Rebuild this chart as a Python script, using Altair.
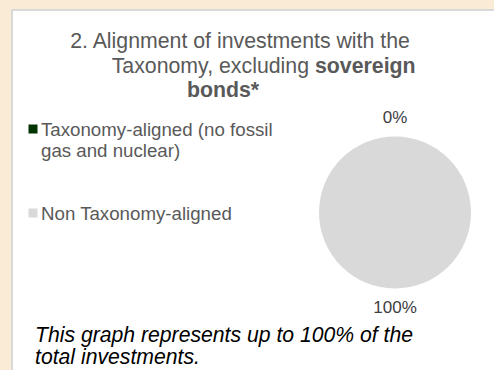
import altair as alt
import pandas as pd

# ---- data ----
categories = ["Taxonomy-aligned (no fossil gas and nuclear)", "Non Taxonomy-aligned"]
legend_lines = [["Taxonomy-aligned (no fossil", "gas and nuclear)"], ["Non Taxonomy-aligned"]]
values = [0, 100]
pct_labels = ["0%", "100%"]
colors = ["#003300", "#D9D9D9"]

title_line1 = "2. Alignment of investments with the"
title_line2a = "Taxonomy, excluding"
title_line2b = "sovereign"
title_line3 = "bonds*"
note_lines = ["This graph represents up to 100% of the", "total investments."]

FONT = "Liberation Sans"
W, H = 494, 370
CX, CY, R = 395, 212.5, 76

df = pd.DataFrame({"category": categories, "value": values, "label": pct_labels, "order": [0, 1]})
one = pd.DataFrame({"a": [0]})

color_scale = alt.Scale(domain=categories, range=colors)

# white panel
panel = alt.Chart(one).mark_rect(fill="white", stroke="#D9D9D9", strokeWidth=2).encode(
    x=alt.value(12), x2=alt.value(W + 10), y=alt.value(10), y2=alt.value(H + 10)
)

pie = alt.Chart(df).mark_arc(outerRadius=R).encode(
    theta=alt.Theta("value:Q", stack=True),
    color=alt.Color("category:N", scale=color_scale, legend=None),
    order=alt.Order("order:Q"),
    x=alt.value(CX), y=alt.value(CY),
)

pie_labels = alt.Chart(df).mark_text(radius=95, fontSize=17, font=FONT, color="#404040").encode(
    theta=alt.Theta("value:Q", stack=True),
    order=alt.Order("order:Q"),
    text="label:N",
    x=alt.value(CX), y=alt.value(CY),
)

def txt(s, x, y, size, align="left", weight="normal", style="normal", color="#595959", lh=21):
    return alt.Chart(one).mark_text(
        align=align, baseline="alphabetic", fontSize=size, font=FONT,
        fontWeight=weight, fontStyle=style, color=color, lineHeight=lh, lineBreak="\n"
    ).encode(x=alt.value(x), y=alt.value(y), text=alt.value(s))

TS = 21.3
title = [
    txt(title_line1, 240, 47.5, TS, align="center"),
    txt(title_line2a, 309, 72.5, TS, align="right"),
    txt(title_line2b, 315, 72.5, TS, align="left", weight="bold"),
    txt(title_line3, 223, 96.5, TS, align="center", weight="bold"),
]

leg_sq = [
    alt.Chart(one).mark_square(size=81, color=colors[i], opacity=1).encode(
        x=alt.value(33), y=alt.value(129 + 84 * i)
    ) for i in range(2)
]
leg_txt = [
    txt("\n".join(legend_lines[0]), 41, 136, 18.7),
    txt("\n".join(legend_lines[1]), 41, 220, 18.7),
]

note = [
    txt(note_lines[0], 35, 342, 21.2, style="italic", color="#000000"),
    txt(note_lines[1], 35, 364, 21.2, style="italic", color="#000000"),
]

chart = alt.layer(panel, pie, pie_labels, *title, *leg_sq, *leg_txt, *note).properties(
    width=W, height=H, autosize=alt.AutoSizeParams(type="none"), padding=0,
    background="#FAEBD7",
).configure_view(stroke=None)

chart.save("out.html", embed_options={"renderer": "svg", "actions": False})
